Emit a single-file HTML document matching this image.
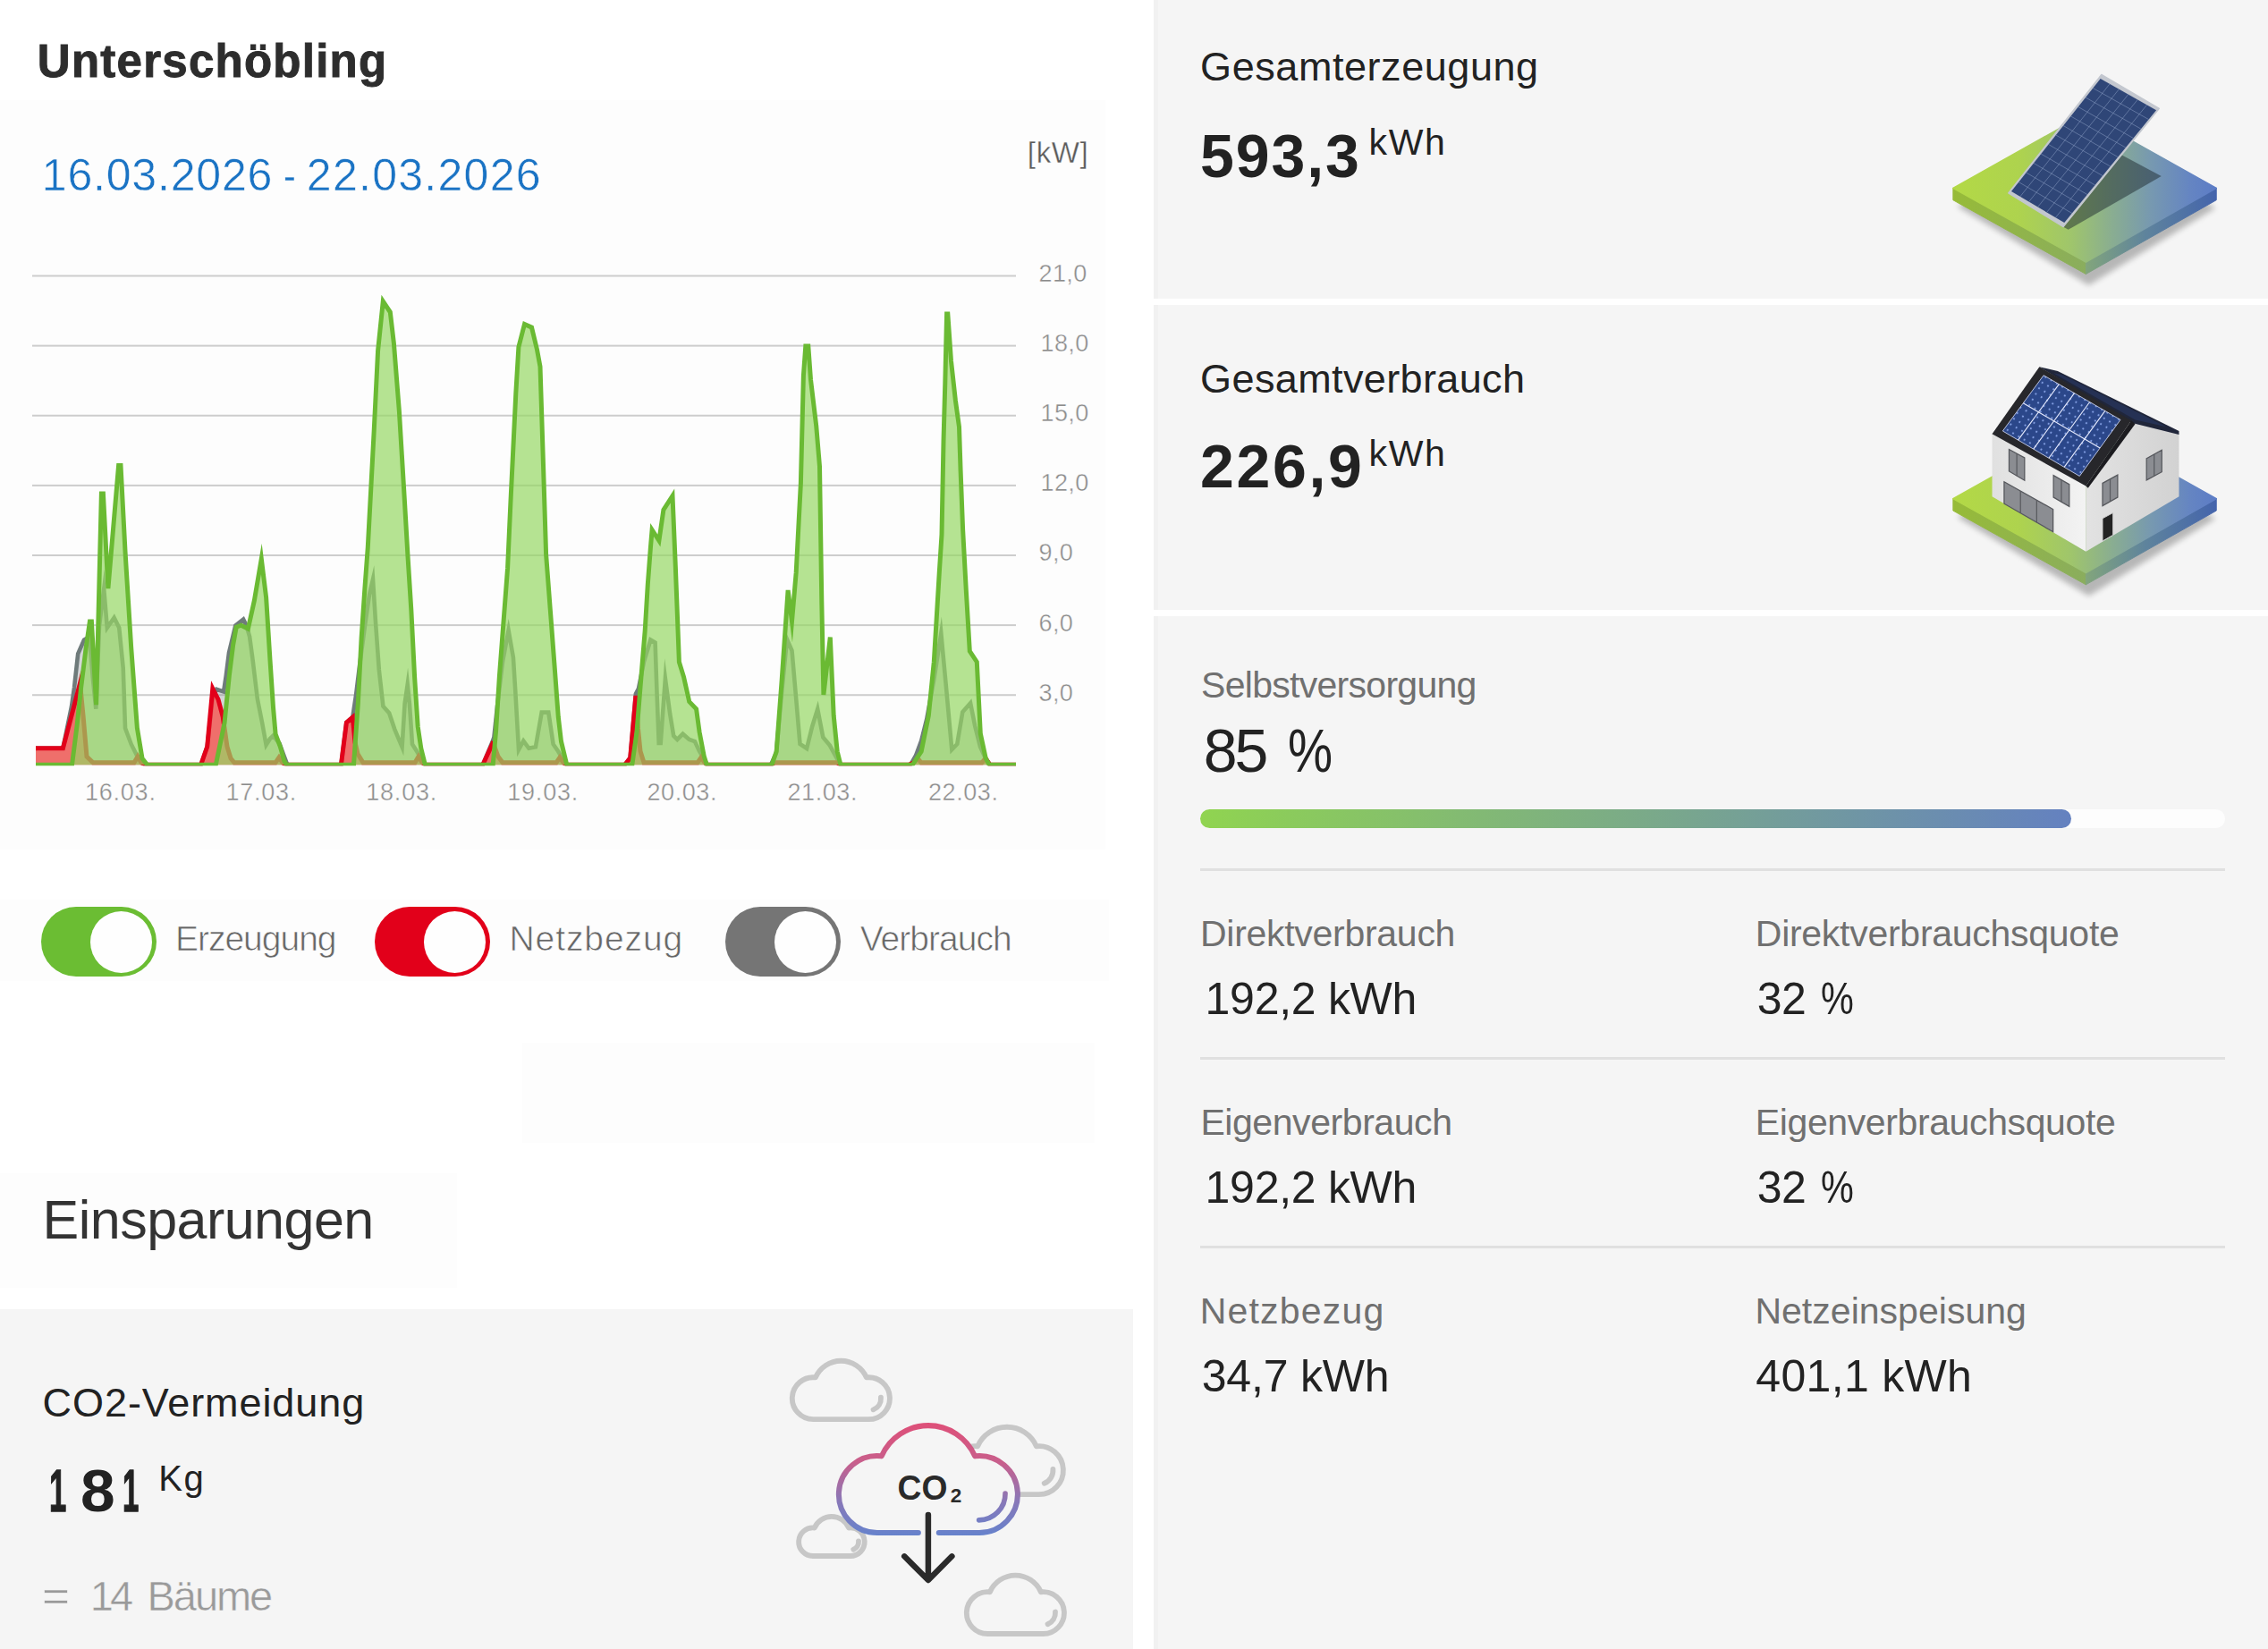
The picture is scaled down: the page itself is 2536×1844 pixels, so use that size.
<!DOCTYPE html><html lang="de"><head><meta charset="utf-8"><title>Unterschöbling</title><style>
html,body{margin:0;padding:0;background:#fff}body{width:2536px;height:1844px;position:relative;overflow:hidden;font-family:"Liberation Sans",sans-serif}.abs{position:absolute;display:block}.t{position:absolute;white-space:pre;line-height:1;margin:0}
</style></head><body>
<div class="abs" style="left:0;top:112px;width:1236px;height:838px;background:#fdfdfd"></div>
<div class="abs" style="left:0;top:1006px;width:1240px;height:91px;background:#fdfdfd"></div>
<div class="abs" style="left:584px;top:1166px;width:640px;height:112px;background:#fdfdfd"></div>
<div class="abs" style="left:0;top:1312px;width:511px;height:128px;background:#fdfdfd"></div>
<div class="abs" style="left:0;top:1464px;width:1267px;height:380px;background:#f5f5f5"></div>
<div class="abs" style="left:1289.5px;top:0px;width:1247px;height:333.5px;background:#f5f5f5;border-left:5px solid #f1f1f1;box-sizing:border-box"></div>
<div class="abs" style="left:1289.5px;top:341px;width:1247px;height:341px;background:#f5f5f5;border-left:5px solid #f1f1f1;box-sizing:border-box"></div>
<div class="abs" style="left:1289.5px;top:688.5px;width:1247px;height:1156px;background:#f5f5f5;border-left:5px solid #f1f1f1;box-sizing:border-box"></div>
<svg class="abs" style="left:0;top:280px" width="1260" height="600" viewBox="0 280 1260 600">
<defs><clipPath id="plot"><rect x="30" y="285" width="1112" height="571.2"/></clipPath></defs>
<rect x="36" y="307.50" width="1100" height="2" fill="#cdcdcd"/>
<rect x="36" y="385.62" width="1100" height="2" fill="#cdcdcd"/>
<rect x="36" y="463.74" width="1100" height="2" fill="#cdcdcd"/>
<rect x="36" y="541.86" width="1100" height="2" fill="#cdcdcd"/>
<rect x="36" y="619.98" width="1100" height="2" fill="#cdcdcd"/>
<rect x="36" y="698.10" width="1100" height="2" fill="#cdcdcd"/>
<rect x="36" y="776.22" width="1100" height="2" fill="#cdcdcd"/>
<g clip-path="url(#plot)">
<path d="M40.0 836.7 L70.4 836.7 L80.0 790.0 L83.0 769.0 L87.2 731.2 L94.0 715.5 L100.0 712.0 L104.0 760.0 L107.3 792.7 L111.0 700.0 L116.2 658.8 L119.8 702.0 L127.6 690.8 L133.2 702.0 L137.7 746.9 L140.0 814.2 L146.7 832.2 L155.7 850.0 L162.0 855.3 L224.6 855.3 L231.7 835.0 L237.8 780.0 L242.2 770.8 L250.1 773.4 L252.7 756.0 L256.0 730.0 L263.3 699.6 L272.1 692.5 L275.6 699.6 L279.1 712.0 L282.6 738.0 L287.9 782.0 L293.2 808.6 L297.6 833.0 L302.0 826.0 L305.5 822.7 L312.5 831.5 L317.0 843.7 L321.3 855.3 L381.4 855.3 L387.4 808.0 L394.3 802.0 L398.0 777.7 L402.0 745.0 L408.0 700.0 L413.0 665.0 L417.0 648.0 L420.0 695.8 L423.8 748.9 L428.4 789.8 L435.2 797.4 L441.3 815.6 L449.6 835.3 L452.6 786.8 L455.7 765.5 L457.9 786.8 L461.0 832.2 L466.0 840.0 L472.0 850.0 L476.0 855.3 L539.8 855.3 L550.4 830.0 L552.4 824.4 L556.0 790.0 L562.0 740.0 L568.6 704.9 L573.9 735.2 L576.2 771.6 L580.0 838.3 L585.3 828.5 L591.3 836.8 L598.9 835.3 L605.7 796.6 L613.3 796.6 L618.6 832.2 L624.0 840.0 L630.0 850.0 L634.0 855.3 L698.6 855.3 L704.7 847.5 L710.9 776.0 L714.0 770.0 L720.0 740.0 L727.4 715.6 L732.6 718.7 L734.6 777.4 L736.7 831.0 L738.7 831.0 L743.9 758.9 L749.1 798.0 L753.2 822.8 L757.3 826.9 L763.5 820.7 L770.7 826.9 L776.9 829.0 L782.0 840.0 L788.0 850.0 L791.0 855.3 L862.0 855.3 L868.0 842.0 L874.0 775.0 L880.0 715.0 L885.5 727.6 L890.0 779.1 L894.5 832.0 L902.1 837.0 L908.2 812.3 L914.2 793.0 L920.3 824.5 L927.9 833.6 L934.0 845.0 L940.0 855.3 L1018.0 855.3 L1024.0 845.0 L1030.2 828.3 L1036.2 804.3 L1044.3 760.0 L1052.3 708.2 L1058.3 772.3 L1064.3 838.3 L1070.3 832.0 L1076.3 796.3 L1085.1 786.3 L1090.3 812.3 L1096.0 835.0 L1102.0 848.0 L1107.0 855.3 L1136.0 855.3 L1136.0 855.3 L40.0 855.3 Z" fill="rgba(120,125,130,0.30)" stroke="none"/>
<path d="M40.0 836.7 L70.4 836.7 L80.0 790.0 L83.0 769.0 L87.2 731.2 L94.0 715.5 L100.0 712.0 L104.0 760.0 L107.3 792.7 L111.0 700.0 L116.2 658.8 L119.8 702.0 L127.6 690.8 L133.2 702.0 L137.7 746.9 L140.0 814.2 L146.7 832.2 L155.7 850.0 L162.0 855.3 L224.6 855.3 L231.7 835.0 L237.8 780.0 L242.2 770.8 L250.1 773.4 L252.7 756.0 L256.0 730.0 L263.3 699.6 L272.1 692.5 L275.6 699.6 L279.1 712.0 L282.6 738.0 L287.9 782.0 L293.2 808.6 L297.6 833.0 L302.0 826.0 L305.5 822.7 L312.5 831.5 L317.0 843.7 L321.3 855.3 L381.4 855.3 L387.4 808.0 L394.3 802.0 L398.0 777.7 L402.0 745.0 L408.0 700.0 L413.0 665.0 L417.0 648.0 L420.0 695.8 L423.8 748.9 L428.4 789.8 L435.2 797.4 L441.3 815.6 L449.6 835.3 L452.6 786.8 L455.7 765.5 L457.9 786.8 L461.0 832.2 L466.0 840.0 L472.0 850.0 L476.0 855.3 L539.8 855.3 L550.4 830.0 L552.4 824.4 L556.0 790.0 L562.0 740.0 L568.6 704.9 L573.9 735.2 L576.2 771.6 L580.0 838.3 L585.3 828.5 L591.3 836.8 L598.9 835.3 L605.7 796.6 L613.3 796.6 L618.6 832.2 L624.0 840.0 L630.0 850.0 L634.0 855.3 L698.6 855.3 L704.7 847.5 L710.9 776.0 L714.0 770.0 L720.0 740.0 L727.4 715.6 L732.6 718.7 L734.6 777.4 L736.7 831.0 L738.7 831.0 L743.9 758.9 L749.1 798.0 L753.2 822.8 L757.3 826.9 L763.5 820.7 L770.7 826.9 L776.9 829.0 L782.0 840.0 L788.0 850.0 L791.0 855.3 L862.0 855.3 L868.0 842.0 L874.0 775.0 L880.0 715.0 L885.5 727.6 L890.0 779.1 L894.5 832.0 L902.1 837.0 L908.2 812.3 L914.2 793.0 L920.3 824.5 L927.9 833.6 L934.0 845.0 L940.0 855.3 L1018.0 855.3 L1024.0 845.0 L1030.2 828.3 L1036.2 804.3 L1044.3 760.0 L1052.3 708.2 L1058.3 772.3 L1064.3 838.3 L1070.3 832.0 L1076.3 796.3 L1085.1 786.3 L1090.3 812.3 L1096.0 835.0 L1102.0 848.0 L1107.0 855.3 L1136.0 855.3" fill="none" stroke="#6f7b7b" stroke-width="4.6" stroke-linejoin="miter" stroke-miterlimit="10"/>
<path d="M40.0 836.7 L70.4 836.7 L89.5 764.0 L93.0 800.0 L97.0 846.0 L104.0 852.8 L150.0 852.8 L154.0 846.0 L158.0 852.8 L163.0 855.3 L224.6 855.3 L231.7 835.0 L237.8 770.0 L244.0 782.2 L249.2 801.6 L254.0 835.0 L258.0 848.0 L262.0 852.8 L308.0 852.8 L312.0 847.0 L316.0 852.8 L320.0 855.3 L381.4 855.3 L387.4 808.0 L394.3 802.0 L397.0 830.0 L400.0 843.0 L406.0 852.8 L464.0 852.8 L468.0 846.0 L472.0 852.8 L476.0 855.3 L539.8 855.3 L550.4 832.2 L553.0 835.0 L557.0 846.0 L562.0 852.8 L622.0 852.8 L626.0 847.0 L630.0 852.8 L634.0 855.3 L698.6 855.3 L704.7 847.5 L710.9 777.9 L713.5 815.0 L716.0 840.0 L720.0 852.8 L780.0 852.8 L784.0 847.0 L788.0 852.8 L791.0 855.3 L862.0 855.3 L866.0 852.8 L932.0 852.8 L936.0 852.8 L940.0 855.3 L1016.0 855.3 L1022.0 852.8 L1026.0 848.0 L1030.0 852.8 L1098.0 852.8 L1102.0 848.0 L1107.0 855.3 L1136.0 855.3 L1136.0 855.3 L40.0 855.3 Z" fill="rgba(245,85,80,0.80)" stroke="none"/>
<path d="M40.0 836.7 L70.4 836.7 L89.5 764.0 L93.0 800.0 L97.0 846.0 L104.0 852.8 L150.0 852.8 L154.0 846.0 L158.0 852.8 L163.0 855.3 L224.6 855.3 L231.7 835.0 L237.8 770.0 L244.0 782.2 L249.2 801.6 L254.0 835.0 L258.0 848.0 L262.0 852.8 L308.0 852.8 L312.0 847.0 L316.0 852.8 L320.0 855.3 L381.4 855.3 L387.4 808.0 L394.3 802.0 L397.0 830.0 L400.0 843.0 L406.0 852.8 L464.0 852.8 L468.0 846.0 L472.0 852.8 L476.0 855.3 L539.8 855.3 L550.4 832.2 L553.0 835.0 L557.0 846.0 L562.0 852.8 L622.0 852.8 L626.0 847.0 L630.0 852.8 L634.0 855.3 L698.6 855.3 L704.7 847.5 L710.9 777.9 L713.5 815.0 L716.0 840.0 L720.0 852.8 L780.0 852.8 L784.0 847.0 L788.0 852.8 L791.0 855.3 L862.0 855.3 L866.0 852.8 L932.0 852.8 L936.0 852.8 L940.0 855.3 L1016.0 855.3 L1022.0 852.8 L1026.0 848.0 L1030.0 852.8 L1098.0 852.8 L1102.0 848.0 L1107.0 855.3 L1136.0 855.3" fill="none" stroke="#e2001a" stroke-width="5.0" stroke-linejoin="miter" stroke-miterlimit="10"/>
<path d="M40.0 855.3 L80.5 855.3 L86.0 812.0 L90.6 769.0 L96.2 724.0 L100.4 695.0 L102.4 695.0 L107.6 788.1 L113.4 552.0 L115.4 552.0 L120.9 658.0 L132.6 520.5 L135.0 520.5 L140.0 616.7 L146.7 724.4 L153.4 814.2 L159.0 848.0 L164.7 855.3 L241.3 855.3 L251.0 808.6 L256.3 755.8 L260.7 720.7 L264.2 701.3 L269.5 699.2 L277.4 703.1 L284.4 671.4 L292.3 625.0 L297.6 667.9 L302.0 738.3 L305.5 791.0 L308.1 820.9 L313.4 835.0 L317.8 850.8 L320.5 855.3 L395.5 855.3 L400.3 787.0 L404.1 714.0 L407.9 658.0 L411.3 612.0 L418.3 480.0 L422.6 392.0 L428.3 337.0 L436.3 349.0 L440.4 384.0 L446.4 460.0 L452.4 560.0 L456.0 622.0 L459.8 682.0 L463.6 757.0 L467.2 812.5 L470.8 836.8 L475.4 855.3 L551.2 855.3 L554.6 817.0 L558.4 756.4 L563.0 695.8 L567.6 635.2 L571.0 560.2 L576.8 440.1 L579.9 388.1 L586.5 362.5 L594.5 366.1 L600.5 391.0 L604.0 410.0 L607.5 520.0 L610.6 620.0 L615.2 680.6 L619.8 741.3 L624.3 801.9 L627.5 829.2 L633.8 855.3 L706.8 855.3 L712.0 818.7 L716.1 767.1 L721.2 705.3 L724.3 653.7 L727.4 612.5 L729.1 592.5 L736.9 604.5 L741.9 570.2 L752.0 554.5 L755.3 633.1 L759.4 740.3 L764.5 756.8 L770.7 784.6 L778.6 792.9 L782.1 818.7 L787.2 845.5 L790.3 855.3 L863.0 855.3 L868.2 840.3 L874.2 760.3 L881.1 660.0 L885.5 694.8 L890.2 640.2 L895.4 540.2 L898.4 420.1 L900.8 387.0 L903.8 387.0 L906.5 424.5 L912.7 476.1 L916.5 521.5 L918.8 673.0 L920.9 777.0 L928.3 712.5 L932.2 800.3 L936.2 840.3 L940.0 855.3 L1020.2 855.3 L1030.2 840.3 L1038.3 800.3 L1044.3 740.2 L1050.3 640.0 L1053.0 598.0 L1055.0 494.0 L1056.8 428.0 L1058.6 351.0 L1059.8 351.0 L1063.5 403.7 L1068.4 447.9 L1072.5 477.4 L1074.1 526.5 L1076.6 592.0 L1080.3 660.2 L1084.3 728.2 L1092.3 740.2 L1096.3 820.3 L1102.3 848.3 L1106.3 855.3 L1136.0 855.3 L1136.0 855.3 L40.0 855.3 Z" fill="rgba(150,215,100,0.70)" stroke="none"/>
<path d="M40.0 855.3 L80.5 855.3 L86.0 812.0 L90.6 769.0 L96.2 724.0 L100.4 695.0 L102.4 695.0 L107.6 788.1 L113.4 552.0 L115.4 552.0 L120.9 658.0 L132.6 520.5 L135.0 520.5 L140.0 616.7 L146.7 724.4 L153.4 814.2 L159.0 848.0 L164.7 855.3 L241.3 855.3 L251.0 808.6 L256.3 755.8 L260.7 720.7 L264.2 701.3 L269.5 699.2 L277.4 703.1 L284.4 671.4 L292.3 625.0 L297.6 667.9 L302.0 738.3 L305.5 791.0 L308.1 820.9 L313.4 835.0 L317.8 850.8 L320.5 855.3 L395.5 855.3 L400.3 787.0 L404.1 714.0 L407.9 658.0 L411.3 612.0 L418.3 480.0 L422.6 392.0 L428.3 337.0 L436.3 349.0 L440.4 384.0 L446.4 460.0 L452.4 560.0 L456.0 622.0 L459.8 682.0 L463.6 757.0 L467.2 812.5 L470.8 836.8 L475.4 855.3 L551.2 855.3 L554.6 817.0 L558.4 756.4 L563.0 695.8 L567.6 635.2 L571.0 560.2 L576.8 440.1 L579.9 388.1 L586.5 362.5 L594.5 366.1 L600.5 391.0 L604.0 410.0 L607.5 520.0 L610.6 620.0 L615.2 680.6 L619.8 741.3 L624.3 801.9 L627.5 829.2 L633.8 855.3 L706.8 855.3 L712.0 818.7 L716.1 767.1 L721.2 705.3 L724.3 653.7 L727.4 612.5 L729.1 592.5 L736.9 604.5 L741.9 570.2 L752.0 554.5 L755.3 633.1 L759.4 740.3 L764.5 756.8 L770.7 784.6 L778.6 792.9 L782.1 818.7 L787.2 845.5 L790.3 855.3 L863.0 855.3 L868.2 840.3 L874.2 760.3 L881.1 660.0 L885.5 694.8 L890.2 640.2 L895.4 540.2 L898.4 420.1 L900.8 387.0 L903.8 387.0 L906.5 424.5 L912.7 476.1 L916.5 521.5 L918.8 673.0 L920.9 777.0 L928.3 712.5 L932.2 800.3 L936.2 840.3 L940.0 855.3 L1020.2 855.3 L1030.2 840.3 L1038.3 800.3 L1044.3 740.2 L1050.3 640.0 L1053.0 598.0 L1055.0 494.0 L1056.8 428.0 L1058.6 351.0 L1059.8 351.0 L1063.5 403.7 L1068.4 447.9 L1072.5 477.4 L1074.1 526.5 L1076.6 592.0 L1080.3 660.2 L1084.3 728.2 L1092.3 740.2 L1096.3 820.3 L1102.3 848.3 L1106.3 855.3 L1136.0 855.3" fill="none" stroke="#6aba33" stroke-width="5.0" stroke-linejoin="miter" stroke-miterlimit="10"/>
</g>
</svg>
<div class="abs" style="left:46.2px;top:1013.5px;width:128.8px;height:78.8px;border-radius:40px;background:#6bbd33"></div><div class="abs" style="left:101.30000000000001px;top:1018.5px;width:69.2px;height:69.2px;border-radius:50%;background:#fefefe"></div>
<div class="abs" style="left:419.0px;top:1013.5px;width:128.8px;height:78.8px;border-radius:40px;background:#e2001a"></div><div class="abs" style="left:474.1px;top:1018.5px;width:69.2px;height:69.2px;border-radius:50%;background:#fefefe"></div>
<div class="abs" style="left:810.8px;top:1013.5px;width:128.8px;height:78.8px;border-radius:40px;background:#757575"></div><div class="abs" style="left:865.9px;top:1018.5px;width:69.2px;height:69.2px;border-radius:50%;background:#fefefe"></div>
<div class="abs" style="left:1342.2px;top:904.8px;width:1145.6px;height:21.2px;border-radius:11px;background:#fdfdfd"></div>
<div class="abs" style="left:1342.2px;top:904.8px;width:974px;height:21.2px;border-radius:11px;background:linear-gradient(90deg,#90d450 0%,#8bcb5c 10%,#7aa98a 52%,#6481c0 100%)"></div>
<div class="abs" style="left:1342px;top:971.1px;width:1146px;height:3px;background:#e0e0e0"></div>
<div class="abs" style="left:1342px;top:1181.7px;width:1146px;height:3px;background:#e0e0e0"></div>
<div class="abs" style="left:1342px;top:1392.7px;width:1146px;height:3px;background:#e0e0e0"></div>
<svg class="abs" style="left:2170px;top:70px" width="330" height="260" viewBox="0 0 2093 1649" overflow="visible">
<defs><linearGradient id="pta" x1="88" y1="0" x2="1955" y2="0" gradientUnits="userSpaceOnUse"><stop offset="0" stop-color="#b3d946"/><stop offset="0.25" stop-color="#aed34e"/><stop offset="0.45" stop-color="#9fc56c"/><stop offset="0.6" stop-color="#8aae90"/><stop offset="0.75" stop-color="#7799b0"/><stop offset="0.9" stop-color="#6585c2"/><stop offset="1" stop-color="#5c7cc6"/></linearGradient><linearGradient id="pla" x1="88" y1="0" x2="1030" y2="0" gradientUnits="userSpaceOnUse"><stop offset="0" stop-color="#97bb38"/><stop offset="1" stop-color="#8aad5e"/></linearGradient><linearGradient id="pra" x1="1030" y1="0" x2="1955" y2="0" gradientUnits="userSpaceOnUse"><stop offset="0" stop-color="#82a57c"/><stop offset="0.45" stop-color="#5f849c"/><stop offset="1" stop-color="#4464ac"/></linearGradient><filter id="bla" x="-20%" y="-20%" width="140%" height="140%"><feGaussianBlur stdDeviation="20"/></filter></defs>
<polygon points="118,1020 1050,1580 1950,1030 1021,512" fill="#000" opacity="0.25" filter="url(#bla)"/>
<polygon points="88,890 1030,1415 1030,1500 88,975" fill="url(#pla)" stroke="url(#pla)" stroke-width="6" stroke-linejoin="round"/>
<polygon points="1030,1415 1955,890 1955,975 1030,1500" fill="url(#pra)" stroke="url(#pra)" stroke-width="6" stroke-linejoin="round"/>
<polygon points="88,890 1021,367 1955,890 1030,1415" fill="url(#pta)" stroke="url(#pta)" stroke-width="10" stroke-linejoin="round"/>
<polygon points="870,1165 1283,655 1565,805 905,1185" fill="#1e2a30" opacity="0.5"/>
<polygon points="1140,85 1550,325 870,1165 480,925" fill="#c3c7cf" stroke="#c3c7cf" stroke-width="8" stroke-linejoin="round"/>
<polygon points="1133,114 1529,337 877,1136 501,913" fill="#2f4677"/>
<line x1="1199" y1="151" x2="564" y2="950" stroke="#8fa3c8" stroke-width="4" opacity="0.8"/>
<line x1="1265" y1="188" x2="626" y2="987" stroke="#8fa3c8" stroke-width="4" opacity="0.8"/>
<line x1="1331" y1="225" x2="689" y2="1024" stroke="#8fa3c8" stroke-width="4" opacity="0.8"/>
<line x1="1397" y1="262" x2="752" y2="1062" stroke="#8fa3c8" stroke-width="4" opacity="0.8"/>
<line x1="1463" y1="299" x2="815" y2="1099" stroke="#8fa3c8" stroke-width="4" opacity="0.8"/>
<line x1="1080" y1="181" x2="1475" y2="403" stroke="#8fa3c8" stroke-width="4" opacity="0.8"/>
<line x1="1027" y1="247" x2="1420" y2="470" stroke="#8fa3c8" stroke-width="4" opacity="0.8"/>
<line x1="975" y1="314" x2="1366" y2="536" stroke="#8fa3c8" stroke-width="4" opacity="0.8"/>
<line x1="922" y1="380" x2="1312" y2="603" stroke="#8fa3c8" stroke-width="4" opacity="0.8"/>
<line x1="869" y1="447" x2="1257" y2="670" stroke="#8fa3c8" stroke-width="4" opacity="0.8"/>
<line x1="817" y1="514" x2="1203" y2="736" stroke="#8fa3c8" stroke-width="4" opacity="0.8"/>
<line x1="764" y1="580" x2="1149" y2="803" stroke="#8fa3c8" stroke-width="4" opacity="0.8"/>
<line x1="711" y1="647" x2="1095" y2="869" stroke="#8fa3c8" stroke-width="4" opacity="0.8"/>
<line x1="659" y1="713" x2="1040" y2="936" stroke="#8fa3c8" stroke-width="4" opacity="0.8"/>
<line x1="606" y1="780" x2="986" y2="1003" stroke="#8fa3c8" stroke-width="4" opacity="0.8"/>
<line x1="553" y1="847" x2="932" y2="1069" stroke="#8fa3c8" stroke-width="4" opacity="0.8"/>
</svg>
<svg class="abs" style="left:2170px;top:400px" width="330" height="260" viewBox="0 0 2093 1649" overflow="visible">
<defs><linearGradient id="ptb" x1="88" y1="0" x2="1955" y2="0" gradientUnits="userSpaceOnUse"><stop offset="0" stop-color="#b3d946"/><stop offset="0.25" stop-color="#aed34e"/><stop offset="0.45" stop-color="#9fc56c"/><stop offset="0.6" stop-color="#8aae90"/><stop offset="0.75" stop-color="#7799b0"/><stop offset="0.9" stop-color="#6585c2"/><stop offset="1" stop-color="#5c7cc6"/></linearGradient><linearGradient id="plb" x1="88" y1="0" x2="1030" y2="0" gradientUnits="userSpaceOnUse"><stop offset="0" stop-color="#97bb38"/><stop offset="1" stop-color="#8aad5e"/></linearGradient><linearGradient id="prb" x1="1030" y1="0" x2="1955" y2="0" gradientUnits="userSpaceOnUse"><stop offset="0" stop-color="#82a57c"/><stop offset="0.45" stop-color="#5f849c"/><stop offset="1" stop-color="#4464ac"/></linearGradient><filter id="blb" x="-20%" y="-20%" width="140%" height="140%"><feGaussianBlur stdDeviation="20"/></filter></defs>
<polygon points="118,1130 1050,1690 1950,1140 1021,622" fill="#000" opacity="0.25" filter="url(#blb)"/>
<polygon points="88,1000 1030,1525 1030,1610 88,1085" fill="url(#plb)" stroke="url(#plb)" stroke-width="6" stroke-linejoin="round"/>
<polygon points="1030,1525 1955,1000 1955,1085 1030,1610" fill="url(#prb)" stroke="url(#prb)" stroke-width="6" stroke-linejoin="round"/>
<polygon points="88,1000 1021,477 1955,1000 1030,1525" fill="url(#ptb)" stroke="url(#ptb)" stroke-width="10" stroke-linejoin="round"/>
<defs><linearGradient id="wl" x1="365" y1="0" x2="1030" y2="0" gradientUnits="userSpaceOnUse"><stop offset="0" stop-color="#e0e0e0"/><stop offset="1" stop-color="#f3f3f3"/></linearGradient><linearGradient id="wr" x1="1030" y1="0" x2="1690" y2="0" gradientUnits="userSpaceOnUse"><stop offset="0" stop-color="#e2e2e2"/><stop offset="1" stop-color="#d2d2d2"/></linearGradient><pattern id="dots" width="46" height="46" patternUnits="userSpaceOnUse" patternTransform="rotate(30)"><rect width="46" height="46" fill="#2b478a"/><circle cx="23" cy="23" r="7" fill="#7f9be0"/></pattern></defs>
<polygon points="365,535 1030,900 1030,1375 365,985" fill="url(#wl)" />
<polygon points="1030,900 1352,455 1690,535 1690,985 1030,1375" fill="url(#wr)" />
<polygon points="700,65 830,95 1690,520 1690,545 1352,462" fill="#20263a" />
<polygon points="860,120 1600,490 1380,440 800,110" fill="#27355e" opacity="0.75"/>
<polygon points="700,65 1352,445 1030,910 365,540" fill="#27272b" />
<polygon points="1352,445 1380,470 1045,925 1030,910" fill="#1c1c20" />
<polygon points="730,125 1275,440 985,840 440,520" fill="url(#dots)" />
<line x1="585" y1="322" x2="1130" y2="640" stroke="#e8ecff" stroke-width="7"/>
<line x1="839" y1="188" x2="549" y2="584" stroke="#e8ecff" stroke-width="7"/>
<line x1="948" y1="251" x2="658" y2="648" stroke="#e8ecff" stroke-width="7"/>
<line x1="1057" y1="314" x2="767" y2="712" stroke="#e8ecff" stroke-width="7"/>
<line x1="1166" y1="377" x2="876" y2="776" stroke="#e8ecff" stroke-width="7"/>
<polygon points="730,125 1275,440 985,840 440,520" fill="none" stroke="#dfe5ff" stroke-width="5"/>
<polygon points="485,650 595,710 595,870 485,805" fill="#8b8d92" stroke="#55575c" stroke-width="8"/><line x1="540" y1="680" x2="540" y2="838" stroke="#5a5c60" stroke-width="8"/>
<polygon points="800,835 912,898 912,1055 800,990" fill="#8b8d92" stroke="#55575c" stroke-width="8"/><line x1="856" y1="866" x2="856" y2="1022" stroke="#5a5c60" stroke-width="8"/>
<polygon points="450,880 797,1075 797,1235 450,1035" fill="#8b8d92" stroke="#55575c" stroke-width="8"/><line x1="566" y1="945" x2="566" y2="1102" stroke="#5a5c60" stroke-width="8"/><line x1="681" y1="1010" x2="681" y2="1168" stroke="#5a5c60" stroke-width="8"/>
<polygon points="1460,715 1568,655 1568,810 1460,868" fill="#8b8d92" stroke="#55575c" stroke-width="8"/><line x1="1514" y1="685" x2="1514" y2="839" stroke="#5a5c60" stroke-width="8"/>
<polygon points="1148,890 1255,832 1255,990 1148,1050" fill="#8b8d92" stroke="#55575c" stroke-width="8"/><line x1="1202" y1="861" x2="1202" y2="1020" stroke="#5a5c60" stroke-width="8"/>
<polygon points="1148,1140 1222,1100 1222,1258 1148,1300" fill="#232323" stroke="#cfcfcf" stroke-width="6"/>
</svg>
<svg class="abs" style="left:860px;top:1500px" width="360" height="344" viewBox="0 0 1726 1649">
<defs><linearGradient id="cg" x1="0" y1="437" x2="0" y2="1040" gradientUnits="userSpaceOnUse"><stop offset="0" stop-color="#de4f78"/><stop offset="0.35" stop-color="#c85f8c"/><stop offset="0.7" stop-color="#8878b8"/><stop offset="1" stop-color="#6682cc"/></linearGradient></defs>
<g transform="translate(124 104) scale(0.5455)"><path d="M426 575 H206 A206 206 0 1 1 228.6 164.3 A273 273 0 0 1 729.4 164.3 A206 206 0 1 1 751 575 Z" fill="none" stroke="#c7c7c7" stroke-width="51.3" stroke-linejoin="round"/><path d="M871 360 A120 120 0 0 1 797 480" fill="none" stroke="#c7c7c7" stroke-width="51.3" stroke-linecap="round"/></g>
<g transform="translate(974 459) scale(0.629)"><path d="M426 575 H206 A206 206 0 1 1 228.6 164.3 A273 273 0 0 1 729.4 164.3 A206 206 0 1 1 751 575 Z" fill="none" stroke="#c7c7c7" stroke-width="44.5" stroke-linejoin="round"/><path d="M871 360 A120 120 0 0 1 797 480" fill="none" stroke="#c7c7c7" stroke-width="44.5" stroke-linecap="round"/></g>
<g transform="translate(159 939) scale(0.368)"><path d="M426 575 H206 A206 206 0 1 1 228.6 164.3 A273 273 0 0 1 729.4 164.3 A206 206 0 1 1 751 575 Z" fill="none" stroke="#c7c7c7" stroke-width="76.1" stroke-linejoin="round"/><path d="M871 360 A120 120 0 0 1 797 480" fill="none" stroke="#c7c7c7" stroke-width="76.1" stroke-linecap="round"/></g>
<g transform="translate(1059 1254) scale(0.5455)"><path d="M426 575 H206 A206 206 0 1 1 228.6 164.3 A273 273 0 0 1 729.4 164.3 A206 206 0 1 1 751 575 Z" fill="none" stroke="#c7c7c7" stroke-width="51.3" stroke-linejoin="round"/><path d="M871 360 A120 120 0 0 1 797 480" fill="none" stroke="#c7c7c7" stroke-width="51.3" stroke-linecap="round"/></g>
<path d="M800 1026 H580 A206 206 0 1 1 602.6 615.3 A273 273 0 0 1 1103.4 615.3 A206 206 0 1 1 1125 1026 H910 Z" fill="#f5f5f5" stroke="none"/>
<path d="M800 1026 H580 A206 206 0 1 1 602.6 615.3 A273 273 0 0 1 1103.4 615.3 A206 206 0 1 1 1125 1026 H910" fill="none" stroke="url(#cg)" stroke-width="29" stroke-linecap="round" stroke-linejoin="round"/>
<path d="M1266 815 A141 141 0 0 1 1125 958" fill="none" stroke="url(#cg)" stroke-width="27" stroke-linecap="round"/>
<path d="M853 930 V1278 M725 1152 L853 1280 L980 1152" fill="none" stroke="#2a2a2a" stroke-width="31" stroke-linecap="round" stroke-linejoin="round"/>
<text x="688" y="850" font-family="Liberation Sans, sans-serif" font-weight="700" font-size="186" fill="#2a2a2a" textLength="268" lengthAdjust="spacingAndGlyphs">CO</text>
<text x="972" y="865" font-family="Liberation Sans, sans-serif" font-weight="700" font-size="108" fill="#2a2a2a">2</text>
</svg>
<div class="t" style="left:41.80px;top:43.33px;font-size:51px;letter-spacing:1.257px;color:#2d2d2d;font-weight:700;-webkit-text-stroke:0.9px #2d2d2d;">Unterschöbling</div>
<div class="t" style="left:46.80px;top:171.18px;font-size:50px;letter-spacing:0.807px;color:#1a73c4;-webkit-text-stroke:0.5px #fdfdfd;">16.03.2026</div>
<div class="t" style="left:316.74px;top:171.18px;font-size:50px;letter-spacing:0.000px;color:#1a73c4;transform:scaleX(0.8308);transform-origin:0 0;-webkit-text-stroke:0.5px #fdfdfd;">-</div>
<div class="t" style="left:342.80px;top:171.18px;font-size:50px;letter-spacing:1.285px;color:#1a73c4;-webkit-text-stroke:0.5px #fdfdfd;">22.03.2026</div>
<div class="t" style="left:1148.80px;top:154.27px;font-size:33px;letter-spacing:0.662px;color:#5a5a5a;-webkit-text-stroke:0.4px #fdfdfd;">[kW]</div>
<div class="t" style="left:196.00px;top:1030.19px;font-size:39px;letter-spacing:-1.019px;color:#666666;-webkit-text-stroke:0.7px #fdfdfd;">Erzeugung</div>
<div class="t" style="left:569.50px;top:1030.19px;font-size:39px;letter-spacing:0.918px;color:#666666;-webkit-text-stroke:0.7px #fdfdfd;">Netzbezug</div>
<div class="t" style="left:961.70px;top:1030.19px;font-size:39px;letter-spacing:-0.962px;color:#666666;-webkit-text-stroke:0.7px #fdfdfd;">Verbrauch</div>
<div class="t" style="left:47.60px;top:1334.46px;font-size:61px;letter-spacing:-0.530px;color:#333333;">Einsparungen</div>
<div class="t" style="left:47.60px;top:1545.81px;font-size:45px;letter-spacing:0.920px;color:#222222;">CO2-Vermeidung</div>
<div class="t" style="left:55.14px;top:1633.18px;font-size:67px;letter-spacing:0.000px;color:#222222;font-weight:700;transform:scaleX(0.5156);transform-origin:0 0;-webkit-text-stroke:1.4px #222222;">1</div>
<div class="t" style="left:89.82px;top:1633.18px;font-size:67px;letter-spacing:0.000px;color:#222222;font-weight:700;transform:scaleX(1.0382);transform-origin:0 0;">8</div>
<div class="t" style="left:137.34px;top:1633.18px;font-size:67px;letter-spacing:0.000px;color:#222222;font-weight:700;transform:scaleX(0.4906);transform-origin:0 0;-webkit-text-stroke:1.4px #222222;">1</div>
<div class="t" style="left:177.30px;top:1632.54px;font-size:40px;letter-spacing:1.520px;color:#222222;">Kg</div>
<div class="t" style="left:46.84px;top:1760.81px;font-size:47px;letter-spacing:0.000px;color:#9a9a9a;transform:scaleX(1.1292);transform-origin:0 0;-webkit-text-stroke:0.5px #f5f5f5;">=</div>
<div class="t" style="left:100.70px;top:1760.81px;font-size:47px;letter-spacing:-3.939px;color:#9a9a9a;-webkit-text-stroke:0.5px #f5f5f5;">14</div>
<div class="t" style="left:164.50px;top:1760.81px;font-size:47px;letter-spacing:-2.045px;color:#9a9a9a;-webkit-text-stroke:0.5px #f5f5f5;">Bäume</div>
<div class="t" style="left:1342.10px;top:52.11px;font-size:45px;letter-spacing:0.558px;color:#222222;">Gesamterzeugung</div>
<div class="t" style="left:1342.10px;top:140.04px;font-size:68px;letter-spacing:1.913px;color:#222222;font-weight:700;">593,3</div>
<div class="t" style="left:1530.60px;top:138.79px;font-size:41px;letter-spacing:1.601px;color:#222222;">kWh</div>
<div class="t" style="left:1342.10px;top:400.81px;font-size:45px;letter-spacing:0.377px;color:#222222;">Gesamtverbrauch</div>
<div class="t" style="left:1342.10px;top:487.24px;font-size:68px;letter-spacing:2.638px;color:#222222;font-weight:700;">226,9</div>
<div class="t" style="left:1530.60px;top:486.99px;font-size:41px;letter-spacing:1.601px;color:#222222;">kWh</div>
<div class="t" style="left:1343.10px;top:745.89px;font-size:41px;letter-spacing:-0.718px;color:#707070;">Selbstversorgung</div>
<div class="t" style="left:1345.80px;top:804.64px;font-size:68px;letter-spacing:-3.218px;color:#222222;">85</div>
<div class="t" style="left:1439.64px;top:804.64px;font-size:68px;letter-spacing:0.000px;color:#222222;transform:scaleX(0.8281);transform-origin:0 0;">%</div>
<div class="t" style="left:1342.00px;top:1023.69px;font-size:41px;letter-spacing:-0.284px;color:#707070;">Direktverbrauch</div>
<div class="t" style="left:1347.60px;top:1092.38px;font-size:50px;letter-spacing:-0.288px;color:#222222;">192,2 kWh</div>
<div class="t" style="left:1962.80px;top:1023.69px;font-size:41px;letter-spacing:-0.274px;color:#707070;">Direktverbrauchsquote</div>
<div class="t" style="left:1964.80px;top:1092.38px;font-size:50px;letter-spacing:-0.508px;color:#222222;">32</div>
<div class="t" style="left:2036.17px;top:1092.38px;font-size:50px;letter-spacing:0.000px;color:#222222;transform:scaleX(0.8286);transform-origin:0 0;">%</div>
<div class="t" style="left:1342.40px;top:1234.89px;font-size:41px;letter-spacing:-0.429px;color:#707070;">Eigenverbrauch</div>
<div class="t" style="left:1347.60px;top:1303.27px;font-size:50px;letter-spacing:-0.288px;color:#222222;">192,2 kWh</div>
<div class="t" style="left:1962.80px;top:1234.89px;font-size:41px;letter-spacing:-0.388px;color:#707070;">Eigenverbrauchsquote</div>
<div class="t" style="left:1964.80px;top:1303.27px;font-size:50px;letter-spacing:-0.508px;color:#222222;">32</div>
<div class="t" style="left:2036.17px;top:1303.27px;font-size:50px;letter-spacing:0.000px;color:#222222;transform:scaleX(0.8286);transform-origin:0 0;">%</div>
<div class="t" style="left:1341.70px;top:1445.79px;font-size:41px;letter-spacing:1.211px;color:#707070;">Netzbezug</div>
<div class="t" style="left:1343.70px;top:1514.47px;font-size:50px;letter-spacing:-0.185px;color:#222222;">34,7 kWh</div>
<div class="t" style="left:1962.40px;top:1445.79px;font-size:41px;letter-spacing:0.026px;color:#707070;">Netzeinspeisung</div>
<div class="t" style="left:1963.30px;top:1514.17px;font-size:50px;letter-spacing:0.324px;color:#222222;">401,1 kWh</div>
<div class="t" style="left:1161.50px;top:292.94px;font-size:27px;letter-spacing:0.400px;color:#8c8c8c;-webkit-text-stroke:0.4px #fdfdfd;">21,0</div>
<div class="t" style="left:1163.50px;top:371.06px;font-size:27px;letter-spacing:0.400px;color:#8c8c8c;-webkit-text-stroke:0.4px #fdfdfd;">18,0</div>
<div class="t" style="left:1163.50px;top:449.18px;font-size:27px;letter-spacing:0.400px;color:#8c8c8c;-webkit-text-stroke:0.4px #fdfdfd;">15,0</div>
<div class="t" style="left:1163.50px;top:527.30px;font-size:27px;letter-spacing:0.400px;color:#8c8c8c;-webkit-text-stroke:0.4px #fdfdfd;">12,0</div>
<div class="t" style="left:1161.50px;top:605.42px;font-size:27px;letter-spacing:0.400px;color:#8c8c8c;-webkit-text-stroke:0.4px #fdfdfd;">9,0</div>
<div class="t" style="left:1161.50px;top:683.54px;font-size:27px;letter-spacing:0.400px;color:#8c8c8c;-webkit-text-stroke:0.4px #fdfdfd;">6,0</div>
<div class="t" style="left:1161.50px;top:761.66px;font-size:27px;letter-spacing:0.400px;color:#8c8c8c;-webkit-text-stroke:0.4px #fdfdfd;">3,0</div>
<div class="t" style="left:95.00px;top:873.44px;font-size:27px;letter-spacing:0.767px;color:#8c8c8c;-webkit-text-stroke:0.4px #fdfdfd;">16.03.</div>
<div class="t" style="left:252.40px;top:873.44px;font-size:27px;letter-spacing:0.767px;color:#8c8c8c;-webkit-text-stroke:0.4px #fdfdfd;">17.03.</div>
<div class="t" style="left:409.30px;top:873.44px;font-size:27px;letter-spacing:0.767px;color:#8c8c8c;-webkit-text-stroke:0.4px #fdfdfd;">18.03.</div>
<div class="t" style="left:567.30px;top:873.44px;font-size:27px;letter-spacing:0.767px;color:#8c8c8c;-webkit-text-stroke:0.4px #fdfdfd;">19.03.</div>
<div class="t" style="left:723.50px;top:873.44px;font-size:27px;letter-spacing:0.567px;color:#8c8c8c;-webkit-text-stroke:0.4px #fdfdfd;">20.03.</div>
<div class="t" style="left:880.50px;top:873.44px;font-size:27px;letter-spacing:0.567px;color:#8c8c8c;-webkit-text-stroke:0.4px #fdfdfd;">21.03.</div>
<div class="t" style="left:1038.00px;top:873.44px;font-size:27px;letter-spacing:0.567px;color:#8c8c8c;-webkit-text-stroke:0.4px #fdfdfd;">22.03.</div>
</body></html>
